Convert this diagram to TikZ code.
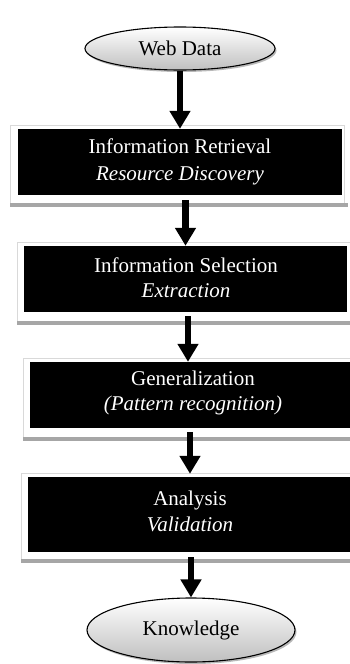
\documentclass[tikz,border=0pt]{standalone}
\usepackage{fontspec}
\setmainfont{Liberation Serif}
\usetikzlibrary{arrows.meta,shapes.geometric,shadows,calc}
\begin{document}
\begin{tikzpicture}[x=1pt,y=-1pt,
  oval/.style={ellipse, draw=black, line width=1.1pt, top color=white, bottom color=black!25,
    drop shadow={shadow xshift=1.5pt, shadow yshift=-2pt, fill=black!55},
    inner sep=0pt, font=\fontsize{21}{25}\selectfont},
  stage/.style={rectangle, fill=black, inner sep=0pt},
  label/.style={text=white, inner sep=0pt, align=center, font=\fontsize{21}{25}\selectfont},
  frame/.style={rectangle, fill=white, draw=black!15, line width=0.8pt, inner sep=0pt},
  bar/.style={fill=black!35},
  flow/.style={line width=6.5pt, -{Triangle[width=20pt,length=18pt]}}
]
\useasboundingbox (0,0) rectangle (349,664);
\fill[white] (0,0) rectangle (349,664);

% frames
\node[frame, minimum width=334pt, minimum height=78pt] (f1) at (177,164) {};
\node[frame, minimum width=333pt, minimum height=79pt] (f2) at (183.5,281.5) {};
\node[frame, minimum width=333pt, minimum height=79pt] (f3) at (189.5,397.5) {};
\node[frame, minimum width=335pt, minimum height=86pt] (f4) at (188.5,516) {};
\fill[bar] (f1.south west) rectangle ($(f1.south east)+(4,4)$);
\fill[bar] (f2.south west) rectangle ($(f2.south east)+(4,4)$);
\fill[bar] (f3.south west) rectangle ($(f3.south east)+(4,4)$);
\fill[bar] (f4.south west) rectangle ($(f4.south east)+(4,4)$);

% black stages
\node[stage, minimum width=324pt, minimum height=66pt] (b1) at (180,162) {};
\node[stage, minimum width=323pt, minimum height=66pt] (b2) at (185.5,279) {};
\node[stage, minimum width=322pt, minimum height=66pt] (b3) at (191,395) {};
\node[stage, minimum width=324pt, minimum height=75pt] (b4) at (190,514.5) {};

% texts
\node[label] (t1) at (180,162) {Information Retrieval\\[2pt] \textit{Resource Discovery}};
\node[label] (t2) at (186,278) {Information Selection\\ \textit{Extraction}};
\node[label] (t3) at (193,393) {Generalization\\ \textit{(Pattern recognition)}};
\node[label] (t4) at (190,511) {Analysis\\[1pt] \textit{Validation}};

% ovals
\node[oval, minimum width=190pt, minimum height=43pt] (web) at (180,48.5) {Web Data};
\node[oval, minimum width=208pt, minimum height=64pt] (know) at (191,630) {Knowledge};

% arrows
\draw[flow] (web.south) -- (b1.north);
\draw[flow] ($(f1.south -| b2.north)+(0,-3)$) -- (b2.north);
\draw[flow] ($(f2.south -| b3.north)+(-3,-5)$) -- ($(b3.north)+(-3,0)$);
\draw[flow] ($(f3.south -| b4.north)+(0,-5)$) -- ($(b4.north)+(0,-3)$);
\draw[flow] ($(f4.south -| know.north)+(0,-2)$) -- (know.north);
\end{tikzpicture}
\end{document}
